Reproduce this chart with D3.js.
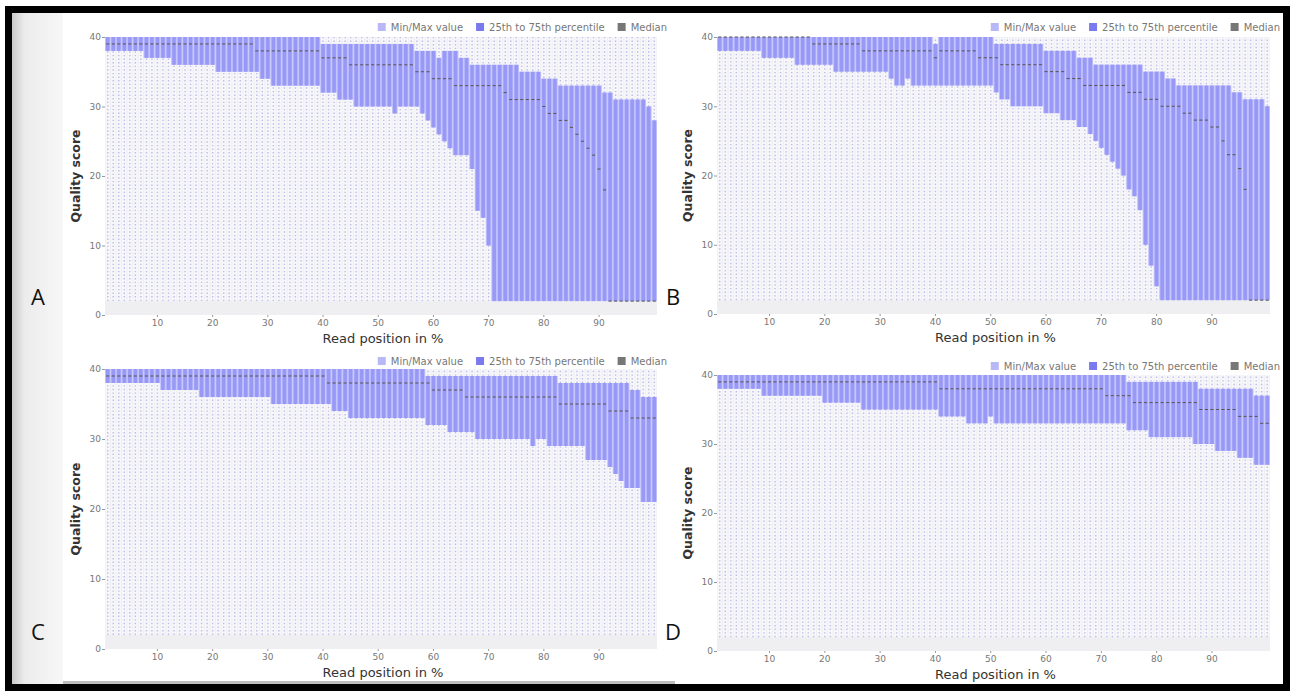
<!DOCTYPE html>
<html>
<head>
<meta charset="utf-8">
<script src="https://cdn.jsdelivr.net/npm/d3@7/dist/d3.min.js"></script>
<style>
  body { margin: 0; background: #fff; }
  svg text { font-family: "DejaVu Sans", sans-serif; }
</style>
</head>
<body>
<svg id="chart" width="1294" height="692"></svg>
<script>
// read positions 1..100 (% of read)
const positions = d3.range(1, 101);
const xTicks = [10, 20, 30, 40, 50, 60, 70, 80, 90];
const yTicks = [0, 10, 20, 30, 40];
const legendLabels = ["Min/Max value", "25th to 75th percentile", "Median"];
const minQuality = 2;
const maxQuality = 40;

// Panel A
const q1A = [38,38,38,38,38,38,38,37,37,37,37,37,36,36,36,36,36,36,36,36,
  35,35,35,35,35,35,35,35,34,34,33,33,33,33,33,33,33,33,33,32,
  32,32,31,31,31,30,30,30,30,30,30,30,29,30,30,30,30,29,28,27,
  26,25,24,23,23,23,21,15,14,10,2,2,2,2,2,2,2,2,2,2,
  2,2,2,2,2,2,2,2,2,2,2,2,2,2,2,2,2,2,2,2];
const q3A = [40,40,40,40,40,40,40,40,40,40,40,40,40,40,40,40,40,40,40,40,
  40,40,40,40,40,40,40,40,40,40,40,40,40,40,40,40,40,40,40,39,
  39,39,39,39,39,39,39,39,39,39,39,39,39,39,39,39,38,38,38,38,
  37,38,38,38,37,37,36,36,36,36,36,36,36,36,36,35,35,35,35,34,
  34,34,33,33,33,33,33,33,33,33,32,32,31,31,31,31,31,31,30,28];
const medA = [39,39,39,39,39,39,39,39,39,39,39,39,39,39,39,39,39,39,39,39,
  39,39,39,39,39,39,39,38,38,38,38,38,38,38,38,38,38,38,38,37,
  37,37,37,37,36,36,36,36,36,36,36,36,36,36,36,36,35,35,35,34,
  34,34,34,33,33,33,33,33,33,33,33,33,32,31,31,31,31,31,31,30,
  29,29,28,28,27,26,25,24,23,21,18,2,2,2,2,2,2,2,2,2];

// Panel B
const q1B = [38,38,38,38,38,38,38,38,37,37,37,37,37,37,36,36,36,36,36,36,
  36,35,35,35,35,35,35,35,35,35,35,34,33,33,34,33,33,33,33,33,
  33,33,33,33,33,33,33,33,33,33,32,31,31,30,30,30,30,30,30,29,
  29,29,28,28,28,27,27,26,25,24,23,22,21,20,18,17,15,10,7,4,
  2,2,2,2,2,2,2,2,2,2,2,2,2,2,2,2,2,2,2,2];
const q3B = [40,40,40,40,40,40,40,40,40,40,40,40,40,40,40,40,40,40,40,40,
  40,40,40,40,40,40,40,40,40,40,40,40,40,40,40,40,40,40,40,39,
  40,40,40,40,40,40,40,40,40,40,39,39,39,39,39,39,39,39,39,38,
  38,38,38,38,38,37,37,37,36,36,36,36,36,36,36,36,36,35,35,35,
  35,34,34,33,33,33,33,33,33,33,33,33,33,32,32,31,31,31,31,30];
const medB = [40,40,40,40,40,40,40,40,40,40,40,40,40,40,40,40,40,39,39,39,
  39,39,39,39,39,39,38,38,38,38,38,38,38,38,38,38,38,38,38,37,
  38,38,38,38,38,38,38,37,37,37,37,36,36,36,36,36,36,36,36,35,
  35,35,35,34,34,34,33,33,33,33,33,33,33,33,32,32,32,31,31,31,
  30,30,30,30,29,29,28,28,28,27,27,25,23,23,21,18,2,2,2,2];

// Panel C
const q1C = [38,38,38,38,38,38,38,38,38,38,37,37,37,37,37,37,37,36,36,36,
  36,36,36,36,36,36,36,36,36,36,35,35,35,35,35,35,35,35,35,35,
  35,34,34,34,33,33,33,33,33,33,33,33,33,33,33,33,33,33,32,32,
  32,32,31,31,31,31,31,30,30,30,30,30,30,30,30,30,30,29,30,30,
  29,29,29,29,29,29,29,27,27,27,27,26,25,24,23,23,23,21,21,21];
const q3C = [40,40,40,40,40,40,40,40,40,40,40,40,40,40,40,40,40,40,40,40,
  40,40,40,40,40,40,40,40,40,40,40,40,40,40,40,40,40,40,40,40,
  40,40,40,40,40,40,40,40,40,40,40,40,40,40,40,40,40,40,39,39,
  39,39,39,39,39,39,39,39,39,39,39,39,39,39,39,39,39,39,39,39,
  39,39,38,38,38,38,38,38,38,38,38,38,38,38,38,37,37,36,36,36];
const medC = [39,39,39,39,39,39,39,39,39,39,39,39,39,39,39,39,39,39,39,39,
  39,39,39,39,39,39,39,39,39,39,39,39,39,39,39,39,39,39,39,39,
  38,38,38,38,38,38,38,38,38,38,38,38,38,38,38,38,38,38,38,37,
  37,37,37,37,37,36,36,36,36,36,36,36,36,36,36,36,36,36,36,36,
  36,36,35,35,35,35,35,35,35,35,35,34,34,34,34,33,33,33,33,33];

// Panel D
const q1D = [38,38,38,38,38,38,38,38,37,37,37,37,37,37,37,37,37,37,37,36,
  36,36,36,36,36,36,35,35,35,35,35,35,35,35,35,35,35,35,35,35,
  34,34,34,34,34,33,33,33,33,34,33,33,33,33,33,33,33,33,33,33,
  33,33,33,33,33,33,33,33,33,33,33,33,33,33,32,32,32,32,31,31,
  31,31,31,31,31,31,30,30,30,30,29,29,29,29,28,28,28,27,27,27];
const q3D = [40,40,40,40,40,40,40,40,40,40,40,40,40,40,40,40,40,40,40,40,
  40,40,40,40,40,40,40,40,40,40,40,40,40,40,40,40,40,40,40,40,
  40,40,40,40,40,40,40,40,40,40,40,40,40,40,40,40,40,40,40,40,
  40,40,40,40,40,40,40,40,40,40,40,40,40,40,39,39,39,39,39,39,
  39,39,39,39,39,39,39,38,38,38,38,38,38,38,38,38,38,37,37,37];
const medD = [39,39,39,39,39,39,39,39,39,39,39,39,39,39,39,39,39,39,39,39,
  39,39,39,39,39,39,39,39,39,39,39,39,39,39,39,39,39,39,39,39,
  38,38,38,38,38,38,38,38,38,38,38,38,38,38,38,38,38,38,38,38,
  38,38,38,38,38,38,38,38,38,38,37,37,37,37,37,36,36,36,36,36,
  36,36,36,36,36,36,36,35,35,35,35,35,35,35,34,34,34,34,33,33];

const svg = d3.select("#chart");

// frame of the composite figure
svg.append("rect").attr("x", 0).attr("y", 0).attr("width", 1294).attr("height", 692).attr("fill", "#fff");
svg.append("rect").attr("x", 8.5).attr("y", 9.5).attr("width", 1278).attr("height", 678)
  .attr("fill", "none").attr("stroke", "#000").attr("stroke-width", 7);
const grad = svg.append("defs").append("linearGradient").attr("id", "side");
grad.append("stop").attr("offset", "0%").attr("stop-color", "#c9c9c9");
grad.append("stop").attr("offset", "25%").attr("stop-color", "#ececec");
grad.append("stop").attr("offset", "100%").attr("stop-color", "#f7f7f7");
svg.append("rect").attr("x", 12).attr("y", 13).attr("width", 51).attr("height", 671).attr("fill", "url(#side)");
svg.append("rect").attr("x", 63).attr("y", 681).attr("width", 612).attr("height", 3).attr("fill", "#bdbdbd");

function drawPanel(cfg, q1, q3, med) {
  const g = svg.append("g");
  const x = d3.scaleBand().domain(positions).range([cfg.left, cfg.right]);
  const y = d3.scaleLinear().domain([0, 40]).range([cfg.bottom, cfg.top]);
  const bw = x.bandwidth();

  // plot background
  g.append("rect")
    .attr("x", cfg.left).attr("y", y(40))
    .attr("width", cfg.right - cfg.left).attr("height", y(0) - y(40))
    .attr("fill", "#efeff1");

  // min / max bars (dotted)
  g.selectAll(".mmbg").data(positions).join("rect")
    .attr("x", d => x(d) + 0.5).attr("y", y(maxQuality))
    .attr("width", bw - 1).attr("height", y(minQuality) - y(maxQuality))
    .attr("fill", "#f7f7fb");
  g.selectAll(".mm").data(positions).join("line")
    .attr("x1", d => x(d) + bw / 2).attr("x2", d => x(d) + bw / 2)
    .attr("y1", y(minQuality)).attr("y2", y(maxQuality))
    .attr("stroke", "#bcbce6").attr("stroke-width", 1.4)
    .attr("stroke-dasharray", "1.4,2.2");

  // 25th - 75th percentile
  g.selectAll(".iqr").data(positions).join("rect")
    .attr("x", d => x(d)).attr("y", (d, i) => y(q3[i]))
    .attr("width", bw).attr("height", (d, i) => y(q1[i]) - y(q3[i]))
    .attr("fill", "#bdbdfc");
  g.selectAll(".iqr2").data(positions).join("rect")
    .attr("x", d => x(d) + 1).attr("y", (d, i) => y(q3[i]))
    .attr("width", bw - 2).attr("height", (d, i) => y(q1[i]) - y(q3[i]))
    .attr("fill", "#9898f6");

  // median
  g.selectAll(".med").data(positions).join("line")
    .attr("x1", d => x(d) + 1.2).attr("x2", d => x(d) + bw - 1.2)
    .attr("y1", (d, i) => y(med[i])).attr("y2", (d, i) => y(med[i]))
    .attr("stroke", "#555").attr("stroke-width", 1);

  // axes
  const yAxis = g.append("g").attr("transform", `translate(${cfg.left},0)`)
    .call(d3.axisLeft(y).tickValues(yTicks).tickSize(3).tickPadding(1));
  const xAxis = g.append("g").attr("transform", `translate(0,${cfg.bottom})`)
    .call(d3.axisBottom(x).tickValues(xTicks).tickSize(2).tickPadding(3));
  [yAxis, xAxis].forEach(a => {
    a.select(".domain").remove();
    a.selectAll("line").attr("stroke", "#999");
    a.selectAll("text").attr("fill", "#777").style("font-size", "9px");
  });

  // axis titles
  g.append("text")
    .attr("transform", `translate(${cfg.left - 25},${(y(0) + y(40)) / 2}) rotate(-90)`)
    .attr("text-anchor", "middle").attr("fill", "#333")
    .style("font-size", "12.5px").style("font-weight", "bold")
    .text("Quality score");
  g.append("text")
    .attr("x", (cfg.left + cfg.right) / 2 + 2).attr("y", cfg.bottom + 28)
    .attr("text-anchor", "middle").attr("fill", "#333")
    .style("font-size", "13px")
    .text("Read position in %");

  // legend
  const legendColors = ["#b8b8f6", "#7a7aee", "#777"];
  const leg = g.append("g");
  let lx = cfg.legendRight;
  for (let i = legendLabels.length - 1; i >= 0; i--) {
    const t = leg.append("text")
      .attr("x", lx).attr("y", cfg.legendY + 4)
      .attr("text-anchor", "end").attr("fill", "#777")
      .style("font-size", "10px").text(legendLabels[i]);
    const w = t.node().getComputedTextLength();
    leg.append("rect")
      .attr("x", lx - w - 13).attr("y", cfg.legendY - 4)
      .attr("width", 8).attr("height", 8)
      .attr("fill", legendColors[i]);
    lx = lx - w - 26;
  }

  // panel letter
  svg.append("text")
    .attr("x", cfg.letterX).attr("y", cfg.letterY)
    .attr("text-anchor", "middle").attr("fill", "#111")
    .style("font-family", "'Open Sans', sans-serif").style("font-size", "22px")
    .text(cfg.letter);
}

drawPanel({ left: 105, right: 657, top: 37, bottom: 315, legendRight: 667, legendY: 27, letter: "A", letterX: 38, letterY: 305 }, q1A, q3A, medA);
drawPanel({ left: 717, right: 1270, top: 37, bottom: 314, legendRight: 1280, legendY: 27, letter: "B", letterX: 673, letterY: 305 }, q1B, q3B, medB);
drawPanel({ left: 105, right: 657, top: 369, bottom: 649, legendRight: 667, legendY: 361, letter: "C", letterX: 38, letterY: 640 }, q1C, q3C, medC);
drawPanel({ left: 717, right: 1270, top: 375, bottom: 651, legendRight: 1280, legendY: 366, letter: "D", letterX: 673, letterY: 640 }, q1D, q3D, medD);
</script>
</body>
</html>
